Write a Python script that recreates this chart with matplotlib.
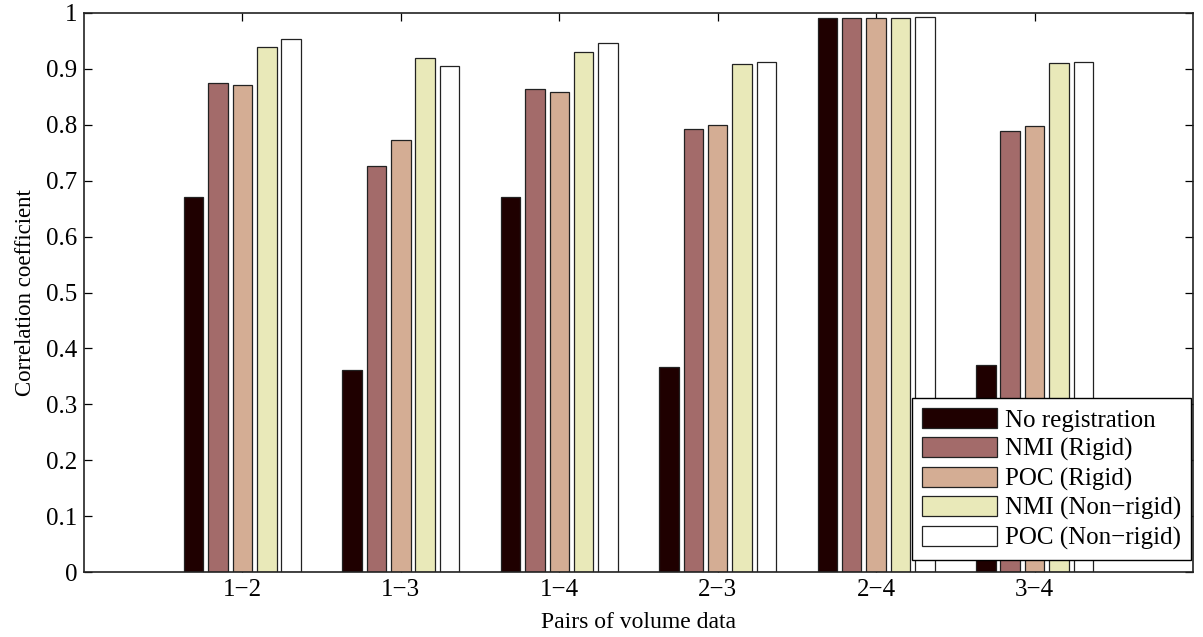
import numpy as np
import matplotlib
matplotlib.use('Agg')
import matplotlib.pyplot as plt

# data
pairs = ['1\u22122', '1\u22123', '1\u22124', '2\u22123', '2\u22124', '3\u22124']
series_names = ['No registration', 'NMI (Rigid)', 'POC (Rigid)',
                'NMI (Non\u2212rigid)', 'POC (Non\u2212rigid)']
no_reg = [0.671, 0.362, 0.671, 0.367, 0.991, 0.371]
nmi_rigid = [0.875, 0.726, 0.864, 0.792, 0.991, 0.789]
poc_rigid = [0.871, 0.772, 0.858, 0.800, 0.991, 0.798]
nmi_nonrigid = [0.940, 0.920, 0.931, 0.909, 0.991, 0.910]
poc_nonrigid = [0.953, 0.905, 0.947, 0.912, 0.993, 0.912]

colors = ['#1f0000', '#a36b6a', '#d4ad94', '#e9e9b9', '#ffffff']

plt.rcParams['font.family'] = ['Liberation Serif', 'DejaVu Serif']

fig = plt.figure(figsize=(12.03, 6.37), dpi=100)
ax = fig.add_axes([0.0698, 0.102, 0.9219, 0.8776])

x = np.arange(1, len(pairs) + 1)
all_series = [no_reg, nmi_rigid, poc_rigid, nmi_nonrigid, poc_nonrigid]
n = len(all_series)
step = 0.154
width = 0.123
for i, vals in enumerate(all_series):
    offs = (i - (n - 1) / 2) * step
    ax.bar(x + offs, vals, width, color=colors[i], edgecolor='#222222',
           linewidth=0.9, label=series_names[i], zorder=2)

ax.set_xlim(0, 7)
ax.set_ylim(0, 1)
ax.set_xticks(x)
ax.set_xticklabels(pairs)
ax.set_yticks(np.arange(0, 1.01, 0.1))
ax.set_yticklabels(['0'] + ['%.1f' % v for v in np.arange(0.1, 0.95, 0.1)] + ['1'])
ax.tick_params(direction='in', top=True, right=True, length=6, width=0.9,
               labelsize=18, pad=5)
for s in ax.spines.values():
    s.set_linewidth(1.2)
    s.set_color('#222222')

ax.set_xlabel('Pairs of volume data', fontsize=17, labelpad=8)
ax.set_ylabel('Correlation coefficient', fontsize=16.5, labelpad=7)

leg = ax.legend(loc='lower right', bbox_to_anchor=(0.998, 0.0215), fontsize=18,
                fancybox=False, framealpha=1, edgecolor='black',
                handlelength=3.0, handleheight=0.85, handletextpad=0.3,
                labelspacing=0.22, borderpad=0.4, borderaxespad=0)
leg.get_frame().set_linewidth(1.0)

fig.savefig('out.png', dpi=100)
